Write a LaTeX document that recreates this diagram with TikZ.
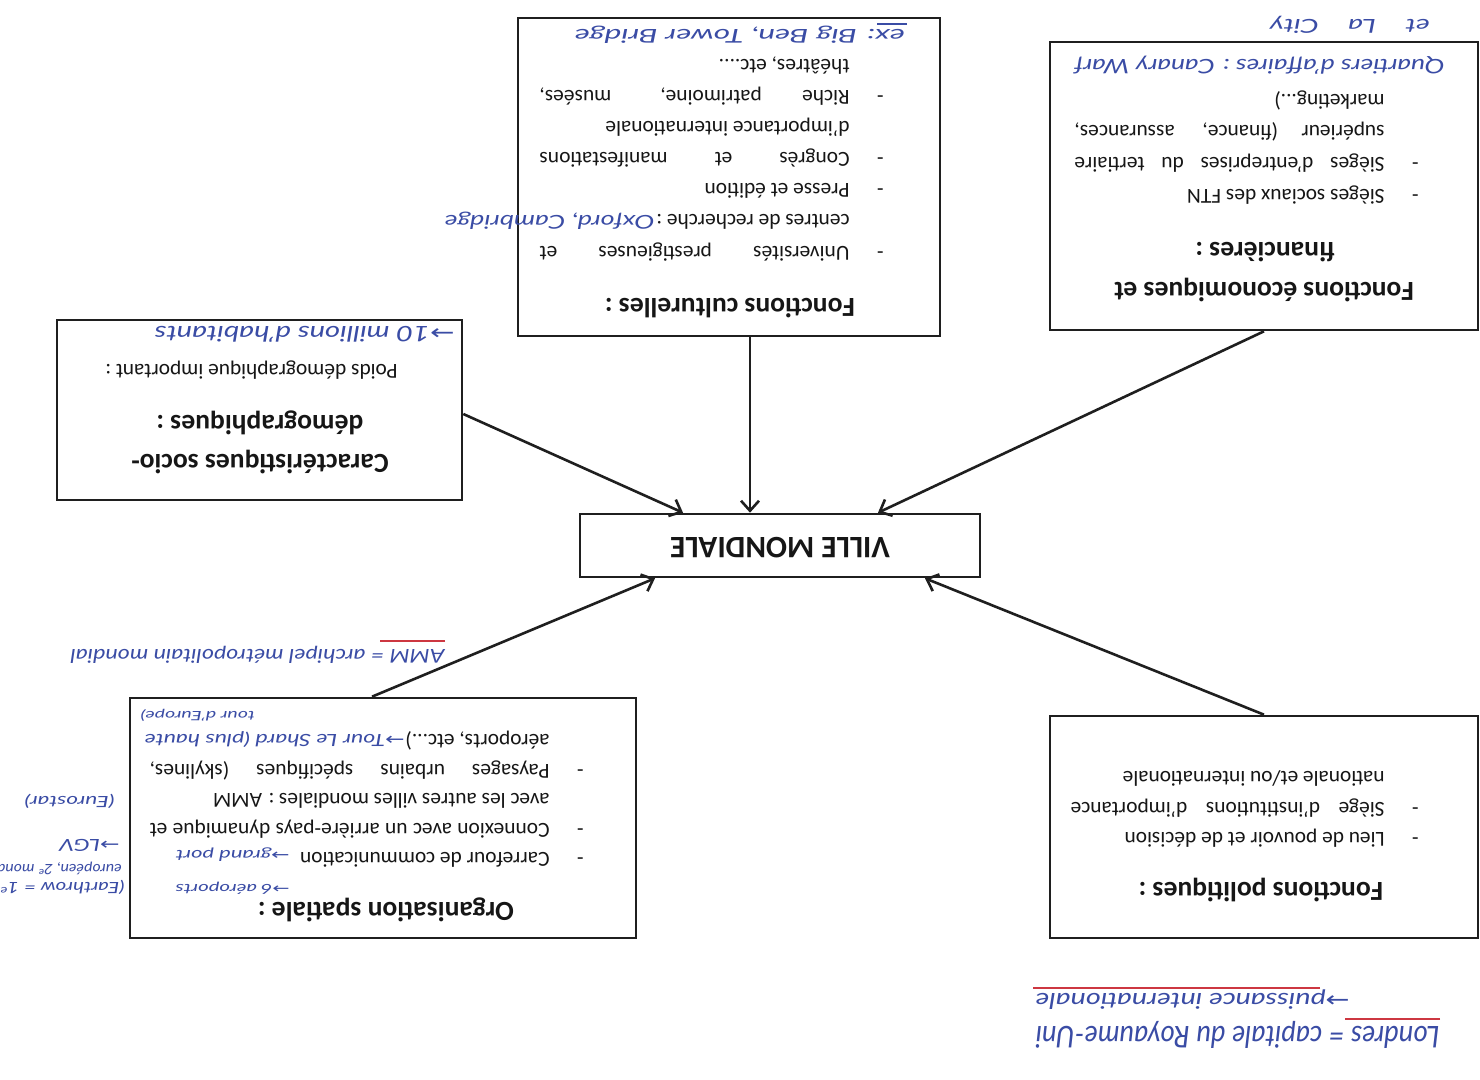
\documentclass[tikz,border=0pt]{standalone}
\usepackage{fontspec}
\setmainfont{Carlito}
\newfontfamily\hand{Lato}
\newfontfamily\dv{DejaVu Sans}
\usetikzlibrary{arrows.meta}
\definecolor{ink}{RGB}{58,76,165}
\definecolor{redink}{RGB}{205,55,65}
\definecolor{txt}{RGB}{22,22,22}
\newcommand\bul{\llap{\makebox[17pt][l]{-}}}
\newcommand\hwt[3]{\resizebox{#1}{#2}{#3}}
\newcommand\ar{{\dv\symbol{"2192}}}
\begin{document}
\begin{tikzpicture}[x=0.5pt,y=-0.5pt,
  box/.style={draw=black!88, line width=1.3pt, inner sep=0pt},
  arr/.style={line width=1.3pt, draw=black!88, -{Straight Barb[length=5pt,width=9pt,line width=1.3pt]}},
  ln/.style={rotate=180, anchor=west, inner sep=0pt, text=txt, font=\fontsize{10.7}{13}\selectfont, text height=7.5pt, text depth=2pt},
  ttl/.style={rotate=180, anchor=center, inner sep=0pt, text=txt, font=\fontsize{13.8}{16}\selectfont\bfseries, text height=9.5pt, text depth=2.5pt},
  hw/.style={rotate=180, anchor=west, inner sep=0pt, text=ink, font=\hand\itshape},
  redline/.style={draw=redink, line width=0.8pt}]
\useasboundingbox (0,0) rectangle (1480,1080);
\fill[white] (0,0) rectangle (1480,1080);

% boxes
\node[box, minimum width=211pt, minimum height=159pt] (cult) at (729,177) {};
\node[box, minimum width=214pt, minimum height=144pt] (econ) at (1264,186) {};
\node[box, minimum width=202.5pt, minimum height=90pt] (demo) at (259.5,410) {};
\node[box, minimum width=200pt, minimum height=31.5pt] (ville) at (780,545.5) {};
\node[box, minimum width=253pt, minimum height=120pt] (org) at (383,818) {};
\node[box, minimum width=214pt, minimum height=111pt] (pol) at (1264,827) {};

% arrows
\draw[arr] ([xshift=10.5pt]cult.south) -- ([xshift=-15pt]ville.north);
\draw[arr] ([yshift=-2pt]demo.east) -- ([xshift=-48.5pt]ville.north);
\draw[arr] (econ.south) -- ([xshift=49pt]ville.north);
\draw[arr] ([xshift=-5.5pt]org.north) -- ([xshift=-62.5pt]ville.south);
\draw[arr] (pol.north) -- ([xshift=72.5pt]ville.south);

% centre
\node[ttl, font=\fontsize{15.6}{18}\selectfont\bfseries] (villet) at (780,545) {VILLE MONDIALE};

% culture box
\node[ttl] (c0) at (730,306) {Fonctions culturelles :};
\node[ln] (c1) at (850,252) {\bul\makebox[155pt][s]{Universités prestigieuses et}};
\node[ln] (c2) at (850,220) {centres de recherche :};
\node[hw] (c2h) at (655,221) {\hwt{105pt}{7pt}{Oxford, Cambridge}};
\node[ln] (c3) at (850,189) {\bul Presse et édition};
\node[ln] (c4) at (850,158) {\bul\makebox[155pt][s]{Congrès et manifestations}};
\node[ln] (c5) at (850,127) {d’importance internationale};
\node[ln] (c6) at (850,96) {\bul\makebox[155pt][s]{Riche patrimoine, musées,}};
\node[ln] (c7) at (850,65) {théâtres, etc....};
\node[hw] (c8) at (905,35) {\hwt{165pt}{7pt}{ex: Big Ben, Tower Bridge}};
\draw[draw=ink, line width=0.6pt] (907,24) -- (877,24);

% economic box
\node[ttl] (e0) at (1264,290) {Fonctions économiques et};
\node[ttl] (e1) at (1265,250) {financières :};
\node[ln] (e2) at (1385,195) {\bul Sièges sociaux des FTN};
\node[ln] (e3) at (1385,163) {\bul\makebox[155pt][s]{Sièges d’entreprises du tertiaire}};
\node[ln] (e4) at (1385,131) {\makebox[155pt][s]{supérieur (finance, assurances,}};
\node[ln] (e5) at (1385,100) {marketing...)};
\node[hw] (e6) at (1445,65) {\hwt{185pt}{7.5pt}{Quartiers d’affaires : Canary Warf}};
\node[hw] (e7) at (1430,25) {\hwt{80pt}{7pt}{et\quad La\quad City}};

% demographic box
\node[ttl] (d0) at (260,462) {Caractéristiques socio-};
\node[ttl] (d1) at (260,423) {démographiques :};
\node[ln] (d2) at (398,370) {Poids démographique important :};
\node[hw] (d3) at (455,334) {\hwt{150pt}{8pt}{\ar10 millions d’habitants}};

% spatial organisation box
\node[ttl] (o0) at (386,910) {Organisation spatiale :};
\node[hw] (o0h) at (290,888) {\hwt{57pt}{5pt}{\ar6 aéroports}};
\node[ln] (o1) at (550,858) {\bul Carrefour de communication};
\node[hw] (o1h) at (290,855) {\hwt{57pt}{5.5pt}{\ar grand port}};
\node[ln] (o2) at (550,829) {\bul\makebox[200pt][s]{Connexion avec un arrière-pays dynamique et}};
\node[ln] (o3) at (550,799) {avec les autres villes mondiales : AMM};
\node[ln] (o4) at (550,770) {\bul\makebox[200pt][s]{Paysages urbains spécifiques (skylines,}};
\node[ln] (o5) at (550,740) {aéroports, etc...)};
\node[hw] (o5h) at (405,740) {\hwt{130pt}{6.5pt}{\ar Tour Le Shard (plus haute}};
\node[hw] (o6h) at (255,715) {\hwt{57pt}{5pt}{tour d’Europe)}};

% political box
\node[ttl] (p0) at (1261,890) {Fonctions politiques :};
\node[ln] (p1) at (1385,838) {\bul Lieu de pouvoir et de décision};
\node[ln] (p2) at (1385,808) {\bul\makebox[157pt][s]{Siège d’institutions d’importance}};
\node[ln] (p3) at (1385,777) {nationale et/ou internationale};

% handwritten notes outside boxes
\node[hw] (amm) at (445,655) {\hwt{187pt}{7pt}{AMM = archipel métropolitain mondial}};
\draw[redline] (445,641) -- (380,641);
\node[hw] (h1) at (125,887) {\hwt{65pt}{6pt}{(Earthrow = 1\textsuperscript{er}}};
\node[hw] (h2) at (122,869) {\hwt{72pt}{5.5pt}{européen, 2\textsuperscript{e} mondial)}};
\node[hw] (h3) at (120,845) {\hwt{30pt}{6pt}{\ar LGV}};
\node[hw] (h4) at (115,801) {\hwt{45pt}{6pt}{(Eurostar)}};
\node[hw] (lon) at (1440,1035) {\hwt{202pt}{11pt}{Londres = capitale du Royaume-Uni}};
\draw[redline] (1440,1019) -- (1345,1019);
\node[hw] (pui) at (1350,1000) {\hwt{157pt}{8pt}{\ar puissance internationale}};
\draw[redline] (1320,988) -- (1033,988);
\end{tikzpicture}
\end{document}
